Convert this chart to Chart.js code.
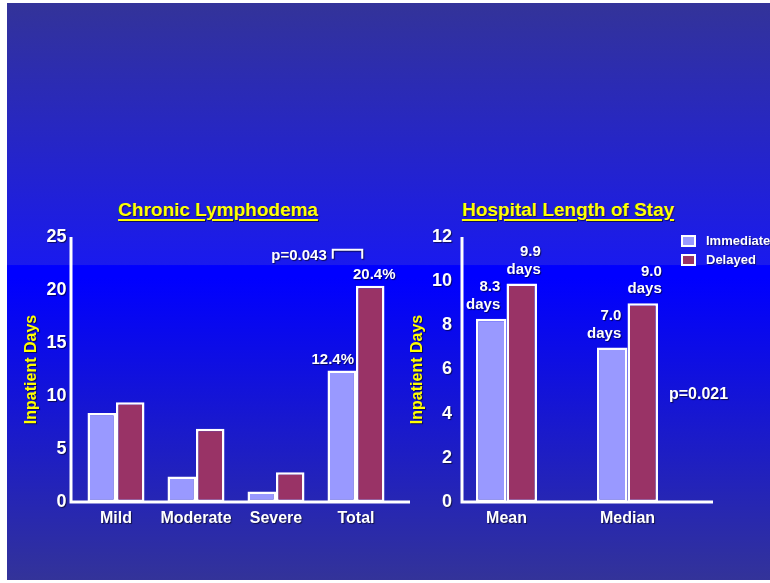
<!DOCTYPE html>
<html>
<head>
<meta charset="utf-8">
<script src="https://cdn.jsdelivr.net/npm/chart.js@4.4.1/dist/chart.umd.min.js"></script>
<style>
  html, body { margin: 0; padding: 0; background: #ffffff; width: 770px; height: 583px; overflow: hidden;
    font-family: "Liberation Sans", Arial, sans-serif; }
  #slide { position: absolute; left: 7px; top: 3px; width: 763px; height: 577px;
    background: linear-gradient(to bottom, #333399 0%, #1a1aee 45.4%, #0000ff 45.5%, #0000ff 47.5%, #333399 100%); }
  canvas { position: absolute; }
  #lymph { left: 0; top: 180px; }
  #stay { left: 400px; top: 180px; }
  .heading { position: absolute; top: 199px; margin: 0; font-size: 19px; line-height: 22px; font-weight: bold;
    color: #ffff00; text-decoration: underline; text-decoration-thickness: 2px; text-underline-offset: 3px;
    text-shadow: 1px 1px 1px rgba(0,0,0,0.55); white-space: nowrap; transform: translateX(-50%); }
  #legend { position: absolute; left: 681px; top: 231px; }
  .legend-row { display: flex; align-items: center; height: 19px; }
  .legend-box { width: 15px; height: 12px; box-sizing: border-box; border: 2px solid #ffffff; margin-right: 10px; }
  .legend-text { color: #ffffff; font-size: 13px; font-weight: bold; text-shadow: 1px 1px 1px rgba(0,0,0,0.5); }
</style>
</head>
<body>
<div id="slide"></div>
<h2 class="heading" style="left:218px">Chronic Lymphodema</h2>
<h2 class="heading" style="left:568px">Hospital Length of Stay</h2>
<canvas id="lymph" width="420" height="360"></canvas>
<canvas id="stay" width="370" height="360"></canvas>
<div id="legend"></div>
<script>
// Series shared by both panels
const seriesNames = ['Immediate', 'Delayed'];
const seriesColors = ['#9999ff', '#993366'];

// Chronic lymphodema panel
const lymphCategories = ['Mild', 'Moderate', 'Severe', 'Total'];
const lymphImmediate = [8.4, 2.4, 1.0, 12.4];
const lymphDelayed = [9.4, 6.9, 2.8, 20.4];
const lymphTicks = [0, 5, 10, 15, 20, 25];
const lymphPValue = 'p=0.043';

// Hospital length of stay panel
const stayCategories = ['Mean', 'Median'];
const stayImmediate = [8.3, 7.0];
const stayDelayed = [9.9, 9.0];
const stayTicks = [0, 2, 4, 6, 8, 10, 12];
const stayUnit = 'days';
const stayPValue = 'p=0.021';

const axisTitle = 'Inpatient Days';
const FONT = '"Liberation Sans", Arial, sans-serif';
Chart.defaults.font.family = FONT;

function shadowOn(ctx) {
  ctx.shadowColor = 'rgba(0,0,0,0.6)';
  ctx.shadowOffsetX = 1;
  ctx.shadowOffsetY = 1;
  ctx.shadowBlur = 1;
}
function shadowOff(ctx) {
  ctx.shadowColor = 'rgba(0,0,0,0)';
  ctx.shadowOffsetX = 0;
  ctx.shadowOffsetY = 0;
  ctx.shadowBlur = 0;
}

// White axis lines, slightly detached from the category band, plus text shadows
const slideAxes = {
  id: 'slideAxes',
  afterLayout(chart, args, opts) {
    // the value axis sits at the drawn axis line, not at the plot edge
    chart.scales.y.right = chart.chartArea.left + opts.axisOffset;
  },
  beforeDraw(chart) { shadowOn(chart.ctx); },
  beforeDatasetsDraw(chart, args, opts) {
    const ctx = chart.ctx;
    const a = chart.chartArea;
    shadowOff(ctx);
    const x0 = a.left + opts.axisOffset;
    ctx.save();
    ctx.strokeStyle = '#ffffff';
    ctx.lineWidth = 3;
    ctx.beginPath();
    ctx.moveTo(x0, a.top);
    ctx.lineTo(x0, a.bottom);
    ctx.lineTo(a.right + opts.axisExtend, a.bottom);
    ctx.stroke();
    ctx.restore();
  }
};

function bars(chart, i) { return chart.getDatasetMeta(i).data; }

// Percentages over the Total pair and the significance bracket
const lymphNotes = {
  id: 'lymphNotes',
  afterDatasetsDraw(chart) {
    const ctx = chart.ctx;
    const y = chart.scales.y;
    const idx = lymphCategories.indexOf('Total');
    ctx.save();
    shadowOn(ctx);
    ctx.fillStyle = '#ffffff';
    ctx.font = 'bold 15px ' + FONT;
    ctx.textAlign = 'center';
    ctx.textBaseline = 'middle';
    const shift = [-9, 4];
    chart.data.datasets.forEach((ds, i) => {
      const bar = bars(chart, i)[idx];
      ctx.fillText(ds.data[idx].toFixed(1) + '%', bar.x + shift[i], bar.y - 11);
    });
    const a = bars(chart, 0)[idx].x - 9;
    const b = bars(chart, 1)[idx].x - 8;
    const top = y.getPixelForValue(23.8);
    const foot = y.getPixelForValue(22.95);
    ctx.strokeStyle = '#ffffff';
    ctx.lineWidth = 2;
    ctx.beginPath();
    ctx.moveTo(a, foot);
    ctx.lineTo(a, top);
    ctx.lineTo(b, top);
    ctx.lineTo(b, foot);
    ctx.stroke();
    ctx.textAlign = 'right';
    ctx.fillText(lymphPValue, a - 6, y.getPixelForValue(23.25));
    ctx.restore();
  }
};

// "x.x days" labels over each bar and the p value
const stayNotes = {
  id: 'stayNotes',
  afterDatasetsDraw(chart) {
    const ctx = chart.ctx;
    const y = chart.scales.y;
    ctx.save();
    shadowOn(ctx);
    ctx.fillStyle = '#ffffff';
    ctx.font = 'bold 15px ' + FONT;
    ctx.textAlign = 'right';
    ctx.textBaseline = 'middle';
    const shift = [9, 19];
    chart.data.datasets.forEach((ds, i) => {
      bars(chart, i).forEach((bar, j) => {
        ctx.fillText(ds.data[j].toFixed(1), bar.x + shift[i], bar.y - 31.5);
        ctx.fillText(stayUnit, bar.x + shift[i], bar.y - 14);
      });
    });
    const last = bars(chart, 1)[stayCategories.length - 1];
    ctx.font = 'bold 16px ' + FONT;
    ctx.textAlign = 'left';
    ctx.fillText(stayPValue, last.x + last.width / 2 + 11, y.getPixelForValue(4.85));
    ctx.restore();
  }
};

function datasets(immediate, delayed) {
  return [immediate, delayed].map((values, i) => ({
    label: seriesNames[i],
    data: values,
    backgroundColor: seriesColors[i],
    borderColor: '#ffffff',
    borderWidth: 2.5,
    borderSkipped: false
  }));
}

function options(cfg) {
  return {
    responsive: false,
    animation: false,
    events: [],
    layout: { padding: { left: 0, right: cfg.padRight, top: 57, bottom: 8 } },
    datasets: { bar: { categoryPercentage: cfg.catPct, barPercentage: 1 } },
    plugins: {
      legend: { display: false },
      tooltip: { enabled: false },
      slideAxes: { axisOffset: cfg.axisOffset, axisExtend: cfg.axisExtend }
    },
    scales: {
      x: {
        offset: true,
        grid: { display: false, drawTicks: false },
        border: { display: false },
        ticks: { color: '#ffffff', font: { size: 16, weight: 'bold' }, padding: 7 },
        afterFit(s) { s.height = 30; }
      },
      y: {
        min: cfg.ticks[0],
        max: cfg.ticks[cfg.ticks.length - 1],
        afterBuildTicks(s) { s.ticks = cfg.ticks.map(v => ({ value: v })); },
        grid: { display: false, drawTicks: false },
        border: { display: false },
        ticks: { color: '#ffffff', font: { size: 18, weight: 'bold' }, padding: cfg.tickPad },
        title: {
          display: true, text: axisTitle, color: '#ffff00',
          font: { size: 16, weight: 'bold' }, padding: { top: cfg.titlePad, bottom: 0 }
        },
        afterFit(s) { s.width = cfg.yWidth; }
      }
    }
  };
}

new Chart(document.getElementById('lymph'), {
  type: 'bar',
  data: { labels: lymphCategories, datasets: datasets(lymphImmediate, lymphDelayed) },
  options: options({ padRight: 24, catPct: 0.7125, axisOffset: -5, axisExtend: 14,
    ticks: lymphTicks, tickPad: 4.5, titlePad: 22.4, yWidth: 76 }),
  plugins: [slideAxes, lymphNotes]
});

const stayChart = new Chart(document.getElementById('stay'), {
  type: 'bar',
  data: { labels: stayCategories, datasets: datasets(stayImmediate, stayDelayed) },
  options: options({ padRight: 82, catPct: 0.504, axisOffset: 16, axisExtend: 25,
    ticks: stayTicks, tickPad: 10, titlePad: 8.4, yWidth: 46 }),
  plugins: [slideAxes, stayNotes]
});

// Legend built from the chart's own datasets
const legend = document.getElementById('legend');
stayChart.data.datasets.forEach(ds => {
  const row = document.createElement('div');
  row.className = 'legend-row';
  const box = document.createElement('span');
  box.className = 'legend-box';
  box.style.background = ds.backgroundColor;
  const text = document.createElement('span');
  text.className = 'legend-text';
  text.textContent = ds.label;
  row.appendChild(box);
  row.appendChild(text);
  legend.appendChild(row);
});
</script>
</body>
</html>
